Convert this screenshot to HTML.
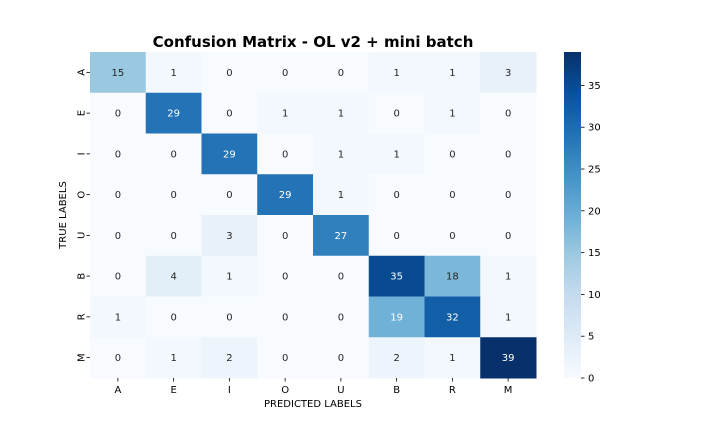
<!DOCTYPE html>
<html><head><meta charset="utf-8"><style>
body{margin:0;background:#fff;}
svg{display:block;font-family:"DejaVu Sans","Liberation Sans",sans-serif;}
</style></head><body>
<svg id="chart" width="720" height="432">
<text x="313" y="47" text-anchor="middle" font-size="15" font-weight="bold">Confusion Matrix - OL v2 + mini batch</text>
<text x="313" y="407" text-anchor="middle" font-size="10">PREDICTED LABELS</text>
<text x="66" y="215" text-anchor="middle" font-size="10" transform="rotate(-90 66 215)">TRUE LABELS</text>
<g id="cells"></g>
<g id="cbar"></g>
</svg>
<script>
const labels=["A","E","I","O","U","B","R","M"];
const matrix=[
[15,1,0,0,0,1,1,3],
[0,29,0,1,1,0,1,0],
[0,0,29,0,1,1,0,0],
[0,0,0,29,1,0,0,0],
[0,0,3,0,27,0,0,0],
[0,4,1,0,0,35,18,1],
[1,0,0,0,0,19,32,1],
[0,1,2,0,0,2,1,39]];
const cbarTicks=[0,5,10,15,20,25,30,35];
const NS="http://www.w3.org/2000/svg";
const X0=90,X1=536,Y0=52,Y1=378,vmax=39;
const stops=["#f7fbff","#deebf7","#c6dbef","#9ecae1","#6baed6","#4292c6","#2171b5","#08519c","#08306b"];
function hex(h){return [1,3,5].map(i=>parseInt(h.substr(i,2),16));}
function cmap(t){t=Math.max(0,Math.min(1,t));const p=t*8,i=Math.min(7,Math.floor(p)),f=p-i;const a=hex(stops[i]),b=hex(stops[i+1]);return a.map((v,k)=>Math.round(v+(b[k]-v)*f));}
function lum(c){const l=c.map(v=>{v/=255;return v<=0.03928?v/12.92:Math.pow((v+0.055)/1.055,2.4)});return 0.2126*l[0]+0.7152*l[1]+0.0722*l[2];}
function el(tag,attrs,p){const e=document.createElementNS(NS,tag);for(const k in attrs)e.setAttribute(k,attrs[k]);p.appendChild(e);return e;}
const n=labels.length,cw=(X1-X0)/n,ch=(Y1-Y0)/n;
const g=document.getElementById('cells');
matrix.forEach((row,r)=>row.forEach((v,c)=>{
 const col=cmap(v/vmax);
 const rect=el('rect',{x:X0+c*cw,y:Y0+r*ch,width:cw+0.5,height:ch+0.5,fill:`rgb(${col})`},g);
 
 
 const t=el('text',{x:X0+(c+0.5)*cw,y:Y0+(r+0.5)*ch+3.5,'text-anchor':'middle','font-size':10,fill:lum(col)<0.408?'#fff':'#262626'},g);
 t.textContent=v;
 
 
}));
labels.forEach((l,i)=>{
 const x=X0+(i+0.5)*cw;
 el('line',{x1:x,x2:x,y1:Y1,y2:Y1+3.5,stroke:'#000','stroke-width':0.8},g);
 const t=el('text',{x:x,y:Y1+15,'text-anchor':'middle','font-size':10},g);t.textContent=l;
 
 
 const y=Y0+(i+0.5)*ch;
 el('line',{x1:X0-3.5,x2:X0,y1:y,y2:y,stroke:'#000','stroke-width':0.8},g);
 const t2=el('text',{x:X0-8,y:y,'text-anchor':'middle','font-size':10,transform:`rotate(-90 ${X0-8} ${y})`,'dominant-baseline':'central'},g);t2.textContent=l;
 
 
});
const cb=document.getElementById('cbar');
const defs=el('defs',{},cb);
const grad=el('linearGradient',{id:'gr',x1:0,y1:1,x2:0,y2:0},defs);
stops.forEach((s,i)=>el('stop',{offset:i/8,'stop-color':s},grad));
const CX0=564,CX1=581;
const cr=el('rect',{x:CX0,y:Y0,width:CX1-CX0,height:Y1-Y0,fill:'url(#gr)'},cb);


cbarTicks.forEach(v=>{
 const y=Y1-(v/vmax)*(Y1-Y0);
 el('line',{x1:CX1,x2:CX1+3.5,y1:y,y2:y,stroke:'#000','stroke-width':0.8},cb);
 const t=el('text',{x:CX1+7,y:y+3.5,'font-size':10},cb);t.textContent=v;
 
 
});
</script>
</body></html>
